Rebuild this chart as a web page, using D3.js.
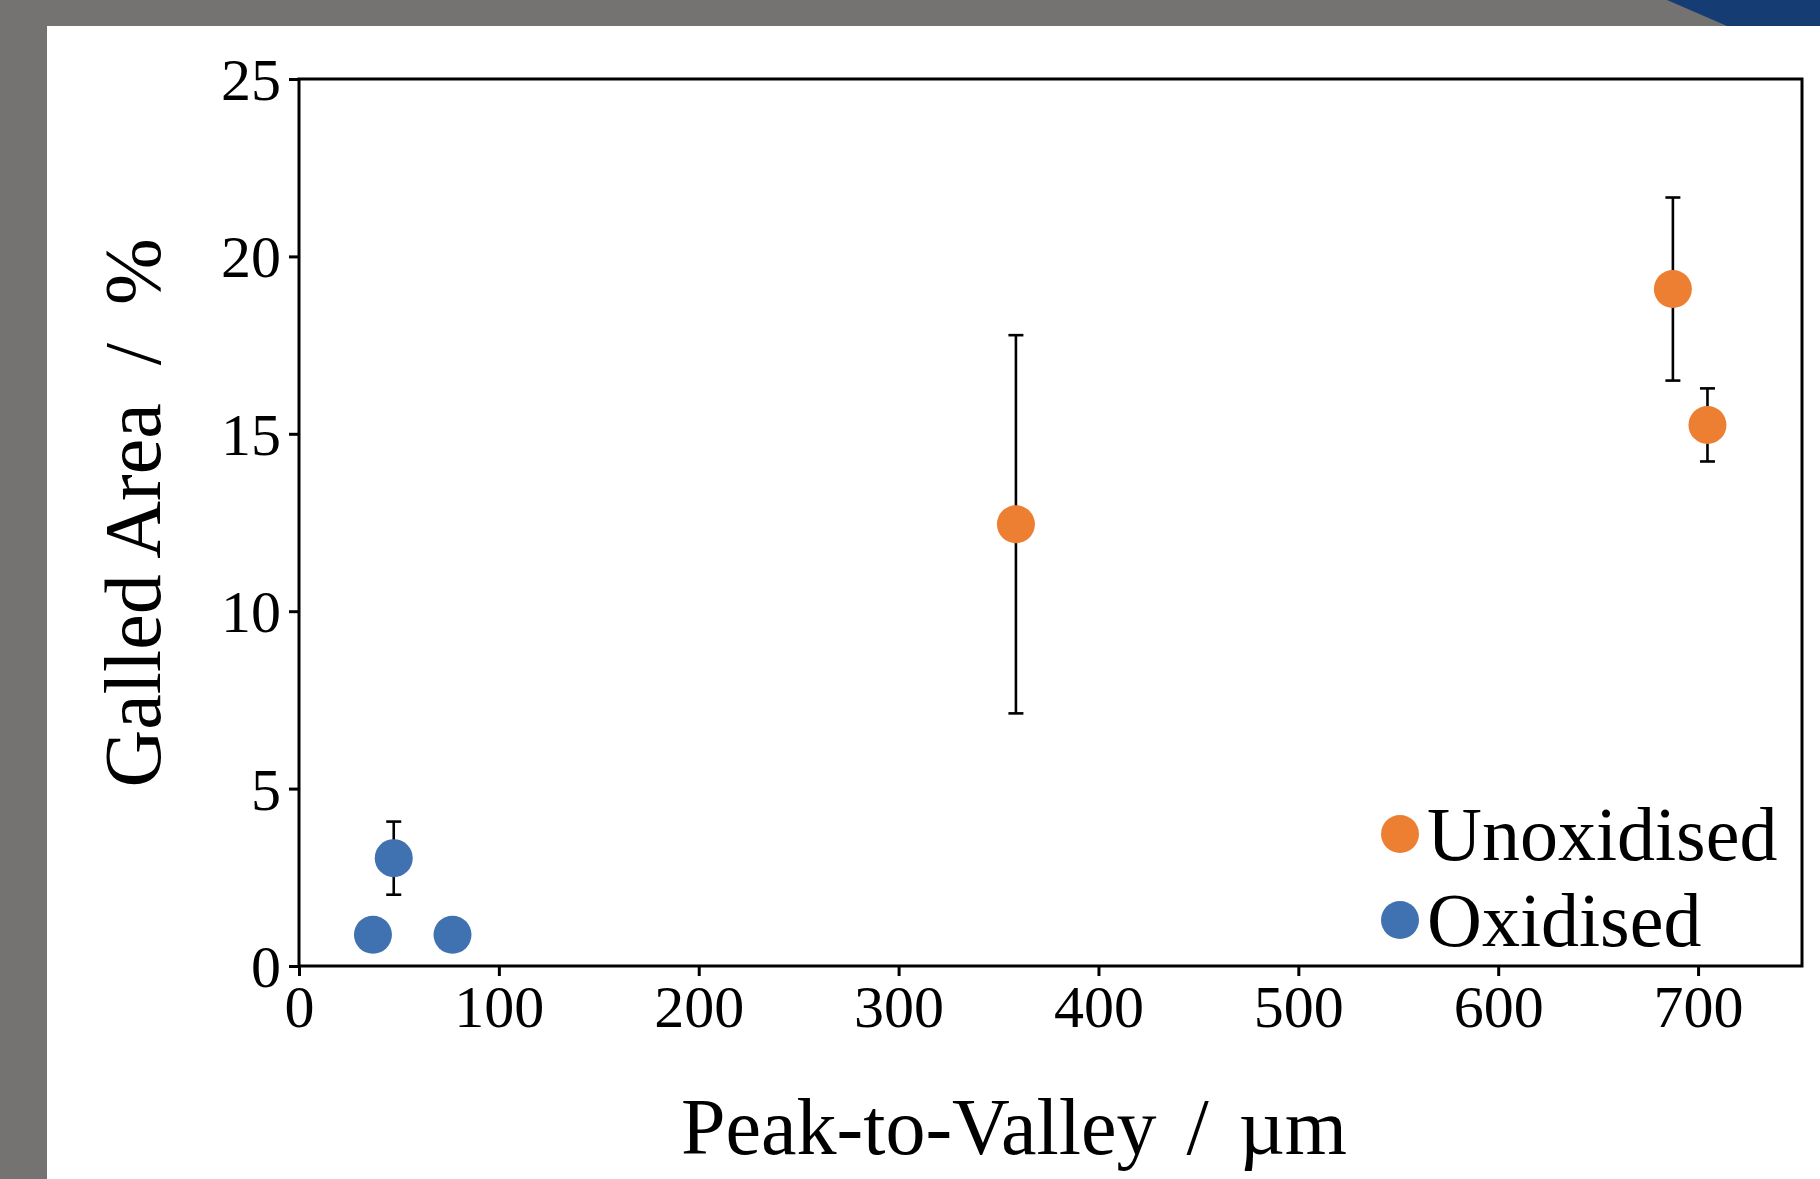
<!DOCTYPE html>
<html>
<head>
<meta charset="utf-8">
<script src="https://cdn.jsdelivr.net/npm/d3@7"></script>
<style>
  html, body { margin: 0; padding: 0; background: #fff; }
  svg { display: block; }
  text { font-family: "Liberation Serif", "Times New Roman", serif; fill: #000; }
</style>
</head>
<body>
<div id="chart"></div>
<script>
// data
var seriesNames = ["Unoxidised", "Oxidised"];
var seriesColors = ["#ed7f33", "#4071b0"];

var unoxX = [358.7, 687.4, 704.7];
var unoxY = [12.45, 19.08, 15.25];
var unoxErr = [5.33, 2.58, 1.03];

var oxX = [37, 47.4, 76.8];
var oxY = [0.88, 3.04, 0.88];
var oxErr = [0, 1.03, 0];

var xTicks = [0, 100, 200, 300, 400, 500, 600, 700];
var yTicks = [0, 5, 10, 15, 20, 25];

var W = 1820, H = 1179;
var margin = {top: 79, right: 18, bottom: 213, left: 299};

var svg = d3.select("#chart").append("svg")
    .attr("width", W)
    .attr("height", H);

// slide frame (gray border + blue corner)
svg.append("rect").attr("x", 0).attr("y", 0).attr("width", W).attr("height", 26).attr("fill", "#757371");
svg.append("rect").attr("x", 0).attr("y", 0).attr("width", 47).attr("height", H).attr("fill", "#757371");
svg.append("polygon")
    .attr("points", "1667,0 " + W + ",0 " + W + ",26 1727,26")
    .attr("fill", "#163d73");

var xScale = d3.scaleLinear()
    .domain([0, 752])
    .range([margin.left, W - margin.right]);

var yScale = d3.scaleLinear()
    .domain([0, 25])
    .range([H - margin.bottom, margin.top]);

// x axis ticks
var xAxis = svg.append("g")
    .attr("transform", "translate(0," + (H - margin.bottom) + ")")
    .call(d3.axisBottom(xScale).tickValues(xTicks).tickSize(10).tickSizeOuter(0).tickPadding(0));
xAxis.select(".domain").remove();
xAxis.selectAll("line").attr("stroke", "#000").attr("stroke-width", 3);
xAxis.selectAll("text")
    .attr("y", 61)
    .attr("dy", null)
    .style("font-size", "60px");

// y axis ticks
var yAxis = svg.append("g")
    .attr("transform", "translate(" + margin.left + ",0)")
    .call(d3.axisLeft(yScale).tickValues(yTicks).tickSize(10).tickSizeOuter(0));
yAxis.select(".domain").remove();
yAxis.selectAll("line").attr("stroke", "#000").attr("stroke-width", 3);
yAxis.selectAll("text")
    .attr("x", -18)
    .attr("dy", "0.34em")
    .style("font-size", "60px");

// plot frame
svg.append("rect")
    .attr("x", xScale(0))
    .attr("y", yScale(25))
    .attr("width", xScale(752) - xScale(0))
    .attr("height", yScale(0) - yScale(25))
    .attr("fill", "none")
    .attr("stroke", "#000")
    .attr("stroke-width", 3);

function drawSeries(xs, ys, errs, color) {
    var pts = xs.map(function(x, i) { return {x: x, y: ys[i], e: errs[i]}; });
    var withErr = pts.filter(function(d) { return d.e > 0; });
    var g = svg.append("g");
    g.selectAll("line.bar")
        .data(withErr)
        .enter().append("line")
        .attr("x1", d => xScale(d.x))
        .attr("x2", d => xScale(d.x))
        .attr("y1", d => yScale(d.y - d.e))
        .attr("y2", d => yScale(d.y + d.e))
        .attr("stroke", "#000")
        .attr("stroke-width", 2.6);
    [-1, 1].forEach(function(s) {
        g.selectAll("line.cap" + s)
            .data(withErr)
            .enter().append("line")
            .attr("x1", d => xScale(d.x) - 7.5)
            .attr("x2", d => xScale(d.x) + 7.5)
            .attr("y1", d => yScale(d.y + s * d.e))
            .attr("y2", d => yScale(d.y + s * d.e))
            .attr("stroke", "#000")
            .attr("stroke-width", 2.6);
    });
    g.selectAll("circle")
        .data(pts)
        .enter().append("circle")
        .attr("cx", d => xScale(d.x))
        .attr("cy", d => yScale(d.y))
        .attr("r", 19)
        .attr("fill", color);
}

drawSeries(unoxX, unoxY, unoxErr, seriesColors[0]);
drawSeries(oxX, oxY, oxErr, seriesColors[1]);

// legend
var legend = svg.append("g");
seriesNames.forEach(function(name, i) {
    var cy = 834 + i * 86;
    legend.append("circle")
        .attr("cx", 1400)
        .attr("cy", cy)
        .attr("r", 19)
        .attr("fill", seriesColors[i]);
    legend.append("text")
        .attr("x", 1427)
        .attr("y", cy + 26)
        .style("font-size", "76px")
        .text(name);
});

// axis titles (wider gaps around the slash, like the LaTeX original)
var xTitle = svg.append("text")
    .attr("x", 1014)
    .attr("y", 1154)
    .attr("text-anchor", "middle")
    .style("font-size", "80px");
xTitle.append("tspan").text("Peak-to-Valley ");
xTitle.append("tspan").attr("dx", 10).text("/ ");
xTitle.append("tspan").attr("dx", 10).text("µm");

var yTitle = svg.append("text")
    .attr("transform", "translate(160,513) rotate(-90)")
    .attr("text-anchor", "middle")
    .style("font-size", "80px");
yTitle.append("tspan").text("Galled Area ");
yTitle.append("tspan").attr("dx", 18).text("/ ");
yTitle.append("tspan").attr("dx", 18).text("%");
</script>
</body>
</html>
